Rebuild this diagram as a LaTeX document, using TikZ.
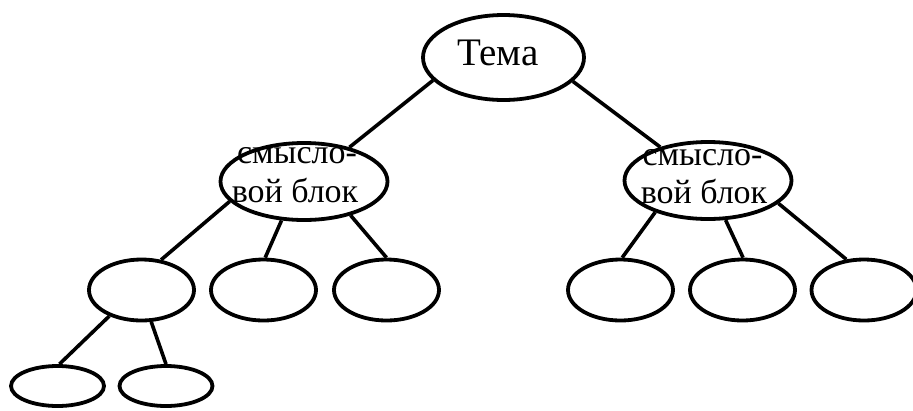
\documentclass[tikz,border=0pt]{standalone}
\usepackage{fontspec}
\setmainfont{Liberation Serif}
\newfontfamily\rusfont{Liberation Serif}
\usetikzlibrary{shapes.geometric}
\begin{document}
\begin{tikzpicture}[x=1pt,y=-1pt,
  oval/.style={draw=black,ellipse,line width=3.8pt,inner sep=0pt,fill=white},
  big/.style={oval,minimum width=161pt,minimum height=85pt},
  mid/.style={oval,minimum width=167pt,minimum height=77pt},
  leaf/.style={oval,minimum width=105pt,minimum height=61pt},
  small/.style={oval,minimum width=93pt,minimum height=40pt},
  conn/.style={draw=black,line width=3.6pt},
  txt/.style={inner sep=0pt,anchor=base,font=\rusfont\fontsize{34}{34}\selectfont},
  ttl/.style={inner sep=0pt,anchor=base,font=\rusfont\fontsize{39}{39}\selectfont}]
\useasboundingbox (0,0) rectangle (913,410);
% nodes
\node[big] (T) at (503.5,57.5) {};
\node[mid] (L) at (304,181.5) {};
\node[mid] (R) at (708,180.5) {};
\node[leaf] (A) at (141.5,290) {};
\node[leaf] (B) at (263.5,290) {};
\node[leaf] (C) at (386.5,290) {};
\node[leaf] (D) at (620.5,290) {};
\node[leaf] (E) at (742.5,290) {};
\node[leaf] (F) at (864,290) {};
\node[small] (G) at (57.5,386) {};
\node[small] (H) at (166,386) {};
% texts
\node[ttl] (Tt) at (498,65) {Тема};
\node[txt] (L1) at (297,163) {смысло-};
\node[txt] (L2) at (295,202) {вой блок};
\node[txt] (R1) at (702.5,165) {смысло-};
\node[txt] (R2) at (704,203) {вой блок};
% connectors
\draw[conn] (T.198.9) -- (L.37.8);
\draw[conn] (T.341.1) -- (R.145.5);
\draw[conn] (L.195.8) -- (A.57);
\draw[conn] (L.240) -- (B.87);
\draw[conn] (L.324) -- (C.90);
\draw[conn] (R.211.5) -- (D.87);
\draw[conn] (R.294) -- (E.89);
\draw[conn] (R.342) -- (F.120);
\draw[conn] (A.219) -- (G.85);
\draw[conn] (A.287) -- (H.90);
\end{tikzpicture}
\end{document}
